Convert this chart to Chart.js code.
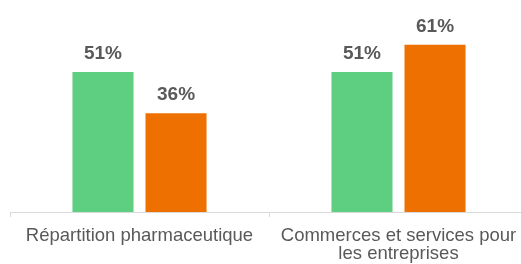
<!DOCTYPE html>
<html>
<head>
<meta charset="utf-8">
<script src="https://cdn.jsdelivr.net/npm/chart.js@4"></script>
<style>
  html, body { margin: 0; padding: 0; background: #fff; overflow: hidden; }
  #wrap { position: relative; width: 528px; height: 264px; }
</style>
</head>
<body>
<div id="wrap"><canvas id="chart"></canvas></div>
<script>
// Data
const categories = [["Répartition pharmaceutique"], ["Commerces et services pour", "les entreprises"]];
const seriesGreen = [51, 51];
const seriesOrange = [36, 61];

const TEXT_COLOR = "#595959";
const FONT = "'Liberation Sans', Arial, sans-serif";

// Value labels above bars
const valueLabels = {
  id: "valueLabels",
  afterDatasetsDraw(chart) {
    const ctx = chart.ctx;
    ctx.save();
    ctx.fillStyle = TEXT_COLOR;
    ctx.font = "bold 19px " + FONT;
    ctx.textAlign = "center";
    ctx.textBaseline = "alphabetic";
    chart.data.datasets.forEach((ds, i) => {
      chart.getDatasetMeta(i).data.forEach((bar, j) => {
        ctx.fillText(ds.data[j] + "%", bar.x, bar.y - 13);
      });
    });
    ctx.restore();
  }
};

const ctx = document.getElementById("chart").getContext("2d");
new Chart(ctx, {
  type: "bar",
  data: {
    labels: categories,
    datasets: [
      { data: seriesGreen, backgroundColor: "#5ECE80" },
      { data: seriesOrange, backgroundColor: "#ED7001" }
    ]
  },
  options: {
    responsive: true,
    maintainAspectRatio: false,
    animation: false,
    devicePixelRatio: 1,
    layout: { padding: { left: 10, right: 0, top: 20, bottom: 0 } },
    categoryPercentage: 0.564,
    barPercentage: 0.836,
    plugins: {
      legend: { display: false },
      tooltip: { enabled: false }
    },
    scales: {
      x: {
        afterFit: (s) => { s.height = 52; },
        grid: { drawOnChartArea: false, drawTicks: true, tickLength: 5, color: "#d9d9d9" },
        border: { color: "#d9d9d9", width: 1 },
        ticks: {
          color: TEXT_COLOR,
          padding: 10,
          maxRotation: 0,
          autoSkip: false,
          font: { family: FONT, size: 18.5, lineHeight: 0.98 }
        }
      },
      y: {
        display: false,
        min: 0,
        max: 70
      }
    }
  },
  plugins: [valueLabels]
});
</script>
</body>
</html>
